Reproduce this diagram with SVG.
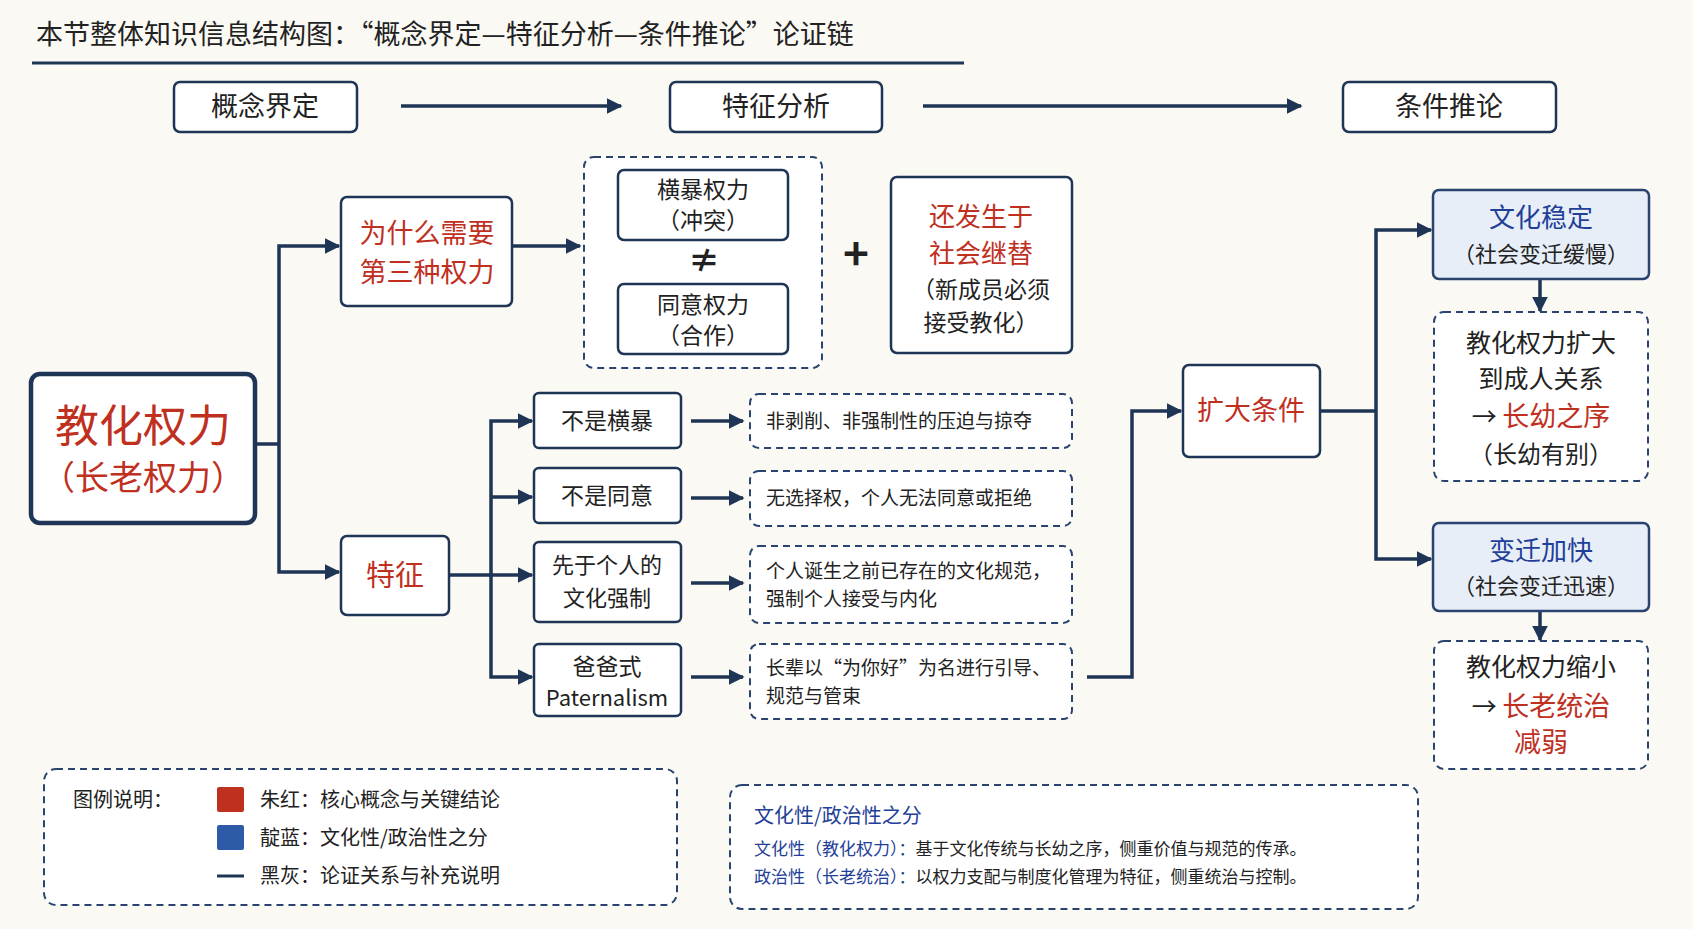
<svg xmlns="http://www.w3.org/2000/svg" width="1693" height="929" viewBox="0 0 1693 929">
<defs>
<marker id="ah" viewBox="0 0 10 10" refX="9" refY="5" markerWidth="4.5" markerHeight="4.5" orient="auto" markerUnits="strokeWidth"><path d="M0,0 L10,5 L0,10 z" fill="#1f3556"/></marker>
<style>
text{font-family:"Noto Sans CJK SC","Liberation Sans",sans-serif;fill:#222;}
.box{fill:#fff;stroke:#1f3556;stroke-width:2.5;}
.dash{fill:#fff;stroke:#2a4470;stroke-width:2;stroke-dasharray:7 5;}
.blue{fill:#e7eef7;stroke:#2a4470;stroke-width:2.5;}
.c{text-anchor:middle;}
.r{fill:#c0301f;}
.b{fill:#1f3f99;}
.con{fill:none;stroke:#1f3556;stroke-width:3.5;marker-end:url(#ah);}
.ln{fill:none;stroke:#1f3556;stroke-width:3.5;}
</style>
</defs>
<rect width="1693" height="929" fill="#fbf9f4"/>
<text x="36" y="44" font-size="27">本节整体知识信息结构图：“概念界定—特征分析—条件推论”论证链</text>
<line x1="32" y1="63" x2="964" y2="63" stroke="#1f3556" stroke-width="3"/>

<g id="h1"><rect class="box" x="174" y="82" width="183" height="50" rx="6"/><text class="c" x="265" y="116" font-size="27">概念界定</text></g>
<g id="h2"><rect class="box" x="670" y="82" width="212" height="50" rx="6"/><text class="c" x="776" y="116" font-size="27">特征分析</text></g>
<g id="h3"><rect class="box" x="1343" y="82" width="213" height="50" rx="6"/><text class="c" x="1449" y="116" font-size="27">条件推论</text></g>

<g id="connectors">
<path class="con" d="M401,106 H621"/>
<path class="con" d="M923,106 H1301"/>
<path class="ln" d="M255,444 H279"/>
<path class="con" d="M279,444 V246 H339"/>
<path class="con" d="M279,444 V572 H339"/>
<path class="con" d="M512,246 H580"/>
<path class="ln" d="M449,575 H491"/>
<path class="con" d="M491,575 V421 H532"/>
<path class="con" d="M491,497 H532"/>
<path class="con" d="M491,575 H532"/>
<path class="con" d="M491,575 V677 H532"/>
<path class="con" d="M691,421 H743"/>
<path class="con" d="M691,498 H743"/>
<path class="con" d="M691,583 H743"/>
<path class="con" d="M691,677 H743"/>
<path class="con" d="M1087,677 H1132 V411 H1181"/>
<path class="ln" d="M1320,411 H1376"/>
<path class="con" d="M1376,411 V230 H1431"/>
<path class="con" d="M1376,411 V559 H1431"/>
<path class="con" d="M1540,279 V311"/>
<path class="con" d="M1540,611 V640"/>
</g>

<g id="main"><rect x="31" y="374" width="224" height="149" rx="9" fill="#fff" stroke="#1f3556" stroke-width="4.5"/>
<text class="c r" x="143" y="442" font-size="44">教化权力</text>
<text class="c r" x="143" y="490" font-size="34">（长老权力）</text></g>

<g id="why"><rect class="box" x="341" y="197" width="171" height="109" rx="6"/>
<text class="c r" x="427" y="243" font-size="27">为什么需要</text>
<text class="c r" x="427" y="282" font-size="27">第三种权力</text></g>

<g id="compare"><rect class="dash" x="584" y="157" width="238" height="211" rx="10"/>
<rect class="box" x="618" y="170" width="170" height="70" rx="6"/>
<text class="c" x="703" y="198" font-size="23">横暴权力</text><text class="c" x="703" y="229" font-size="23">（冲突）</text>
<text class="c" x="704" y="272" font-size="32" font-weight="bold" fill="#1f3556">≠</text>
<rect class="box" x="618" y="284" width="170" height="70" rx="6"/>
<text class="c" x="703" y="313" font-size="23">同意权力</text><text class="c" x="703" y="344" font-size="23">（合作）</text></g>

<text class="c" x="856" y="270" font-size="44" fill="#1f3556" font-weight="bold">+</text>

<g id="succession"><rect class="box" x="891" y="177" width="181" height="176" rx="6"/>
<text class="c r" x="981" y="226" font-size="26">还发生于</text>
<text class="c r" x="981" y="263" font-size="26">社会继替</text>
<text class="c" x="981" y="298" font-size="23">（新成员必须</text>
<text class="c" x="981" y="331" font-size="23">接受教化）</text></g>

<g id="feature"><rect class="box" x="341" y="536" width="108" height="79" rx="6"/>
<text class="c r" x="395" y="586" font-size="29">特征</text></g>

<g id="f1"><rect class="box" x="534" y="393" width="147" height="55" rx="5"/><text class="c" x="607" y="429" font-size="23">不是横暴</text></g>
<g id="f2"><rect class="box" x="534" y="468" width="147" height="55" rx="5"/><text class="c" x="607" y="504" font-size="23">不是同意</text></g>
<g id="f3"><rect class="box" x="534" y="542" width="147" height="80" rx="5"/><text class="c" x="607" y="573" font-size="22">先于个人的</text><text class="c" x="607" y="606" font-size="22">文化强制</text></g>
<g id="f4"><rect class="box" x="534" y="644" width="147" height="72" rx="5"/><text class="c" x="607" y="675" font-size="23">爸爸式</text><text class="c" x="607" y="706" font-size="22" font-family="Liberation Sans">Paternalism</text></g>

<g id="d1"><rect class="dash" x="750" y="394" width="322" height="54" rx="9"/><text x="766" y="428" font-size="19">非剥削、非强制性的压迫与掠夺</text></g>
<g id="d2"><rect class="dash" x="750" y="471" width="322" height="55" rx="9"/><text x="766" y="505" font-size="19">无选择权，个人无法同意或拒绝</text></g>
<g id="d3"><rect class="dash" x="750" y="546" width="322" height="77" rx="9"/><text x="766" y="578" font-size="19">个人诞生之前已存在的文化规范，</text><text x="766" y="606" font-size="19">强制个人接受与内化</text></g>
<g id="d4"><rect class="dash" x="750" y="644" width="322" height="75" rx="9"/><text x="766" y="675" font-size="19">长辈以“为你好”为名进行引导、</text><text x="766" y="703" font-size="19">规范与管束</text></g>

<g id="expand"><rect class="box" x="1183" y="365" width="137" height="92" rx="6"/><text class="c r" x="1251" y="420" font-size="27">扩大条件</text></g>

<g id="stable"><rect class="blue" x="1433" y="190" width="216" height="89" rx="6"/>
<text class="c b" x="1541" y="227" font-size="26">文化稳定</text>
<text class="c" x="1541" y="262" font-size="22">（社会变迁缓慢）</text></g>
<g id="grow"><rect class="dash" x="1434" y="312" width="214" height="169" rx="10"/>
<text class="c" x="1541" y="352" font-size="25">教化权力扩大</text>
<text class="c" x="1541" y="388" font-size="25">到成人关系</text>
<text class="c" x="1541" y="426" font-size="25"><tspan>→ </tspan><tspan class="r" font-size="27">长幼之序</tspan></text>
<text class="c" x="1541" y="463" font-size="24">（长幼有别）</text></g>

<g id="fast"><rect class="blue" x="1433" y="523" width="216" height="88" rx="6"/>
<text class="c b" x="1541" y="560" font-size="26">变迁加快</text>
<text class="c" x="1541" y="594" font-size="22">（社会变迁迅速）</text></g>
<g id="shrink"><rect class="dash" x="1434" y="641" width="214" height="128" rx="10"/>
<text class="c" x="1541" y="676" font-size="25">教化权力缩小</text>
<text class="c" x="1541" y="716" font-size="25"><tspan>→ </tspan><tspan class="r" font-size="27">长老统治</tspan></text>
<text class="c r" x="1541" y="752" font-size="27">减弱</text></g>

<g id="legend"><rect class="dash" x="44" y="769" width="633" height="136" rx="12"/>
<text x="73" y="807" font-size="20">图例说明：</text>
<rect x="217" y="787" width="27" height="25" rx="2" fill="#c0301f"/><text x="260" y="807" font-size="20">朱红：核心概念与关键结论</text>
<rect x="217" y="825" width="27" height="25" rx="2" fill="#2d5ba8"/><text x="260" y="845" font-size="20">靛蓝：文化性/政治性之分</text>
<line x1="217" y1="876" x2="244" y2="876" stroke="#1f3556" stroke-width="3"/><text x="260" y="883" font-size="20">黑灰：论证关系与补充说明</text></g>

<g id="note"><rect class="dash" x="730" y="785" width="688" height="124" rx="12"/>
<text class="b" x="754" y="823" font-size="20">文化性/政治性之分</text>
<text x="754" y="855" font-size="17"><tspan class="b">文化性（教化权力）：</tspan>基于文化传统与长幼之序，侧重价值与规范的传承。</text>
<text x="754" y="883" font-size="17"><tspan class="b">政治性（长老统治）：</tspan>以权力支配与制度化管理为特征，侧重统治与控制。</text></g>
</svg>
